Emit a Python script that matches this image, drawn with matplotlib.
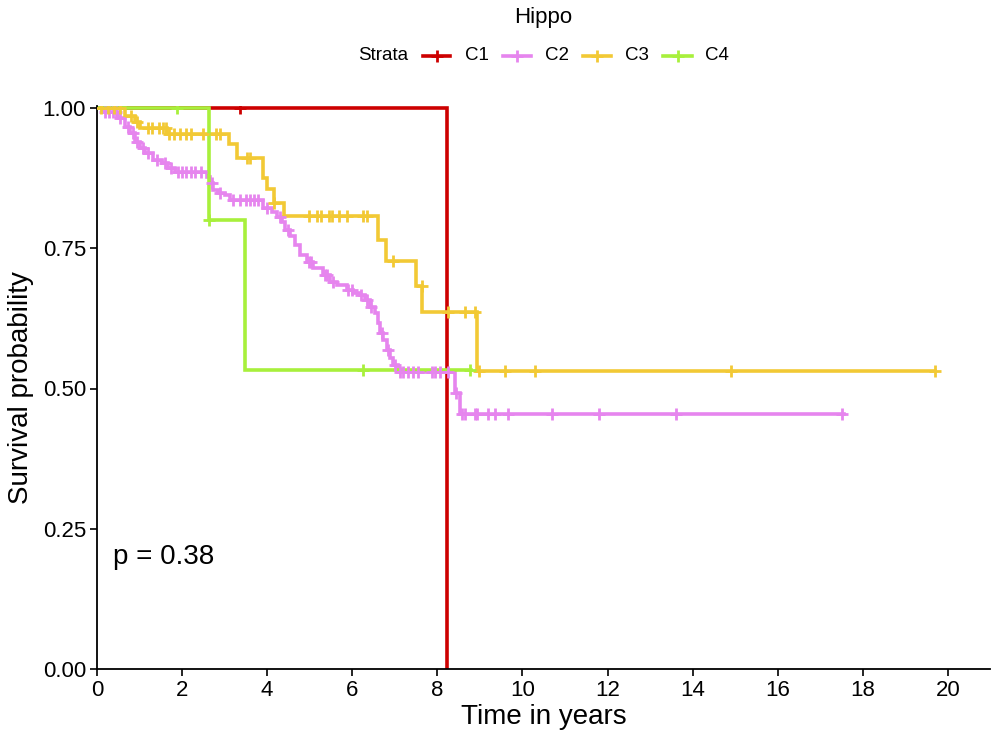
import numpy as np
import matplotlib
matplotlib.use("Agg")
import matplotlib.pyplot as plt
from matplotlib.lines import Line2D

plt.rcParams['font.family'] = ['Liberation Sans', 'DejaVu Sans']

# ---------------- data ----------------
strata = ["C1", "C2", "C3", "C4"]
colors = ["#CD0000", "#E685EE", "#F2C935", "#A8F03C"]

c1_times = [8.23]
c1_surv = [0.0]
c1_censor = [3.36]
c1_end = 8.23

c2_times = [0.12, 0.49, 0.66, 0.78, 0.89, 1.01, 1.13, 1.32, 1.53, 1.67, 1.83,
            2.59, 2.66, 2.73, 2.84, 3.01, 3.13, 3.90, 4.11, 4.23, 4.35, 4.42,
            4.54, 4.65, 4.77, 4.94, 5.08, 5.31, 5.48, 5.64, 5.88, 6.02, 6.18,
            6.30, 6.42, 6.53, 6.60, 6.65, 6.72, 6.82, 6.89, 6.96, 7.07, 8.41, 8.53]
c2_surv = [0.993, 0.982, 0.966, 0.955, 0.939, 0.929, 0.920, 0.907, 0.902, 0.893, 0.886,
           0.877, 0.866, 0.853, 0.848, 0.845, 0.836, 0.822, 0.815, 0.806, 0.797, 0.783,
           0.772, 0.756, 0.738, 0.725, 0.715, 0.702, 0.690, 0.684, 0.676, 0.670, 0.667,
           0.658, 0.645, 0.635, 0.617, 0.599, 0.586, 0.569, 0.554, 0.542, 0.529, 0.492, 0.455]
c2_censor = [0.18, 0.28, 0.38, 0.45, 0.55, 0.72, 0.85, 0.95, 1.08, 1.2, 1.4, 1.6, 1.75,
             1.9, 2.0, 2.1, 2.2, 2.3, 2.45, 2.7, 2.9, 3.2, 3.36, 3.5, 3.6, 3.7, 3.78,
             4.0, 4.3, 4.5, 4.98, 5.02, 5.35, 5.4, 5.55, 5.9, 6.0, 6.2, 6.35, 6.45,
             6.7, 6.85, 7.0, 7.12, 7.19, 7.31, 7.43, 7.54, 7.87, 7.94, 8.06, 8.25,
             8.45, 8.58, 8.65, 8.88, 8.93, 9.19, 9.35, 9.66, 10.69, 11.8, 13.6, 17.5]
c2_end = 17.55

c3_times = [0.65, 0.9, 1.0, 1.65, 3.1, 3.3, 3.9, 4.0, 4.15, 4.4, 6.6, 6.8, 7.5, 7.65, 8.93]
c3_surv = [0.985, 0.975, 0.965, 0.953, 0.935, 0.91, 0.875, 0.855, 0.83, 0.807,
           0.765, 0.727, 0.683, 0.636, 0.531]
c3_censor = [0.1, 0.25, 0.4, 0.55, 0.8, 0.95, 1.2, 1.3, 1.45, 1.55, 1.62, 1.7, 1.8,
             1.95, 2.1, 2.2, 2.5, 2.8, 2.9, 3.53, 3.6, 4.15, 4.98, 5.17, 5.26, 5.45,
             5.52, 5.69, 5.87, 6.25, 6.35, 6.96, 7.64, 8.24, 8.66, 8.88, 8.98, 9.6,
             10.3, 14.9, 19.7]
c3_end = 19.7

c4_times = [2.63, 3.48]
c4_surv = [0.8, 0.533]
c4_censor = [1.88, 2.64, 6.25, 8.77]
c4_end = 8.8

curves = [
    (c1_times, c1_surv, c1_censor, c1_end),
    (c2_times, c2_surv, c2_censor, c2_end),
    (c3_times, c3_surv, c3_censor, c3_end),
    (c4_times, c4_surv, c4_censor, c4_end),
]

x_ticks = [0, 2, 4, 6, 8, 10, 12, 14, 16, 18, 20]
y_ticks = [0.0, 0.25, 0.5, 0.75, 1.0]
y_ticklabels = ["0.00", "0.25", "0.50", "0.75", "1.00"]
pval_text = "p = 0.38"
legend_title = "Hippo"

# ---------------- figure ----------------
W, H = 999, 743
fig = plt.figure(figsize=(W / 100, H / 100), dpi=100)
ax = fig.add_axes([97 / W, (H - 669) / H, 893 / W, 563 / H])

LW = 2.6
MS = 8.5
MEW = 2.0
for (t, s, cen, end), col in zip(curves, colors):
    xs = [0.0] + list(t)
    ys = [1.0] + list(s)
    if end > xs[-1]:
        xs.append(end)
        ys.append(ys[-1])
    ax.step(xs, ys, where="post", color=col, lw=LW, solid_joinstyle="miter",
            zorder=2)

for (t, s, cen, end), col in zip(curves, colors):
    tt = np.asarray(t)
    ss = np.concatenate([[1.0], np.asarray(s)])
    idx = np.searchsorted(tt, np.asarray(cen), side="right")
    cy = ss[idx]
    ax.plot(cen, cy, linestyle="none", marker="+", markersize=MS, mew=MEW,
            color=col, zorder=3)

ax.set_xlim(0, 20.99)
ax.set_ylim(0, 563 / 561)
ax.set_xticks(x_ticks)
ax.set_xticklabels([str(v) for v in x_ticks])
ax.set_yticks(y_ticks)
ax.set_yticklabels(y_ticklabels)
for sp in ["top", "right"]:
    ax.spines[sp].set_visible(False)
for sp in ["left", "bottom"]:
    ax.spines[sp].set_linewidth(1.3)
    ax.spines[sp].set_color("black")
ax.tick_params(axis="both", length=5, width=1.2, labelsize=16, pad=3, colors="black")
ax.set_xlabel("Time in years", fontsize=20, labelpad=2)
ax.set_ylabel("Survival probability", fontsize=20, labelpad=6)

ax.text(0.38, 0.2, pval_text, fontsize=20, ha="left", va="center")

# ---------------- legend (top) ----------------
fig.text(543 / W, 1 - 17 / H, legend_title, fontsize=16, ha="center", va="center")
ly = 1 - 56 / H
fig.text(358 / W, ly, "Strata", fontsize=13.5, ha="left", va="center")
key_x = [(423, 450), (503, 531), (583, 611), (663, 692)]
txt_x = [465, 545, 625, 705]
for (x0, x1), tx, col, lab in zip(key_x, txt_x, colors, strata):
    fig.add_artist(Line2D([x0 / W, x1 / W], [ly, ly], color=col, lw=LW,
                          transform=fig.transFigure))
    fig.add_artist(Line2D([(x0 + x1) / 2 / W], [ly], color=col, marker="+",
                          markersize=MS, mew=MEW, linestyle="none",
                          transform=fig.transFigure))
    fig.text(tx / W, ly, lab, fontsize=13.5, ha="left", va="center")

fig.savefig("out.png", dpi=100)
